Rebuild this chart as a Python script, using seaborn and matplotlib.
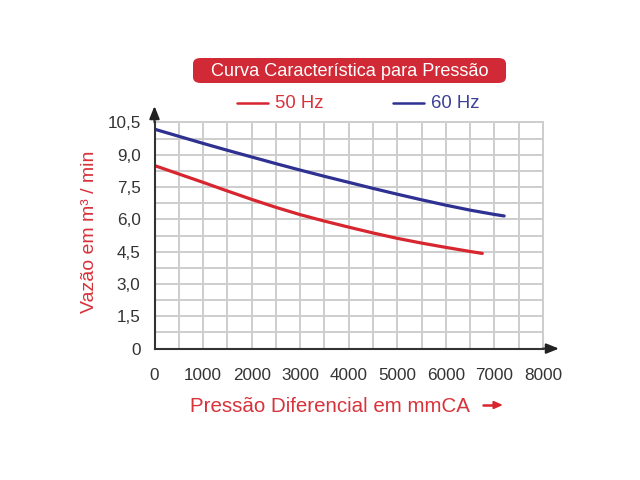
import numpy as np
import pandas as pd
import matplotlib
matplotlib.use("Agg")
import matplotlib.pyplot as plt
import seaborn as sns
from matplotlib.patches import FancyBboxPatch
from matplotlib.lines import Line2D

# ---- data ----
pressure_50 = [0, 500, 1000, 1500, 2000, 2500, 3000, 3500, 4000, 4500, 5000, 5500, 6000, 6500, 6750]
flow_50 = [8.50, 8.11, 7.72, 7.32, 6.93, 6.56, 6.22, 5.92, 5.64, 5.37, 5.12, 4.90, 4.70, 4.51, 4.42]
pressure_60 = [0, 500, 1000, 1500, 2000, 2500, 3000, 3500, 4000, 4500, 5000, 5500, 6000, 6500, 7000, 7200]
flow_60 = [10.19, 9.86, 9.53, 9.21, 8.90, 8.59, 8.29, 8.00, 7.72, 7.44, 7.17, 6.91, 6.66, 6.43, 6.23, 6.16]
series_names = ["50 Hz", "60 Hz"]
x_ticks = [0, 1000, 2000, 3000, 4000, 5000, 6000, 7000, 8000]
y_ticks = [0, 1.5, 3.0, 4.5, 6.0, 7.5, 9.0, 10.5]
y_tick_labels = ["0", "1,5", "3,0", "4,5", "6,0", "7,5", "9,0", "10,5"]
title = "Curva Característica para Pressão"
x_label = "Pressão Diferencial em mmCA"
y_label = "Vazão em m³ / min"

RED = "#d7262f"
BLUE = "#2e3192"
RED_TXT = "#d8323a"
BLUE_TXT = "#3d3f98"
AX = "#333333"
GRID = "#cdcdcd"

sns.set_style("white")
plt.rcParams["font.family"] = ["Liberation Sans", "DejaVu Sans"]

df = pd.concat([
    pd.DataFrame({"p": pressure_50, "q": flow_50, "f": series_names[0]}),
    pd.DataFrame({"p": pressure_60, "q": flow_60, "f": series_names[1]}),
])

W, H = 640, 480
fig = plt.figure(figsize=(6.4, 4.8), dpi=100)
fig.patch.set_facecolor("white")

def fx(px):
    return px / W

def fy(py):
    return 1 - py / H

x0, x1 = 154.5, 543.0
y0, y1 = 348.6, 122.5
ax = fig.add_axes([fx(x0), fy(y0), fx(x1) - fx(x0), fy(y1) - fy(y0)])

sns.lineplot(data=df, x="p", y="q", hue="f", palette={series_names[0]: RED, series_names[1]: BLUE},
             legend=False, linewidth=2.3, ax=ax, sort=False, zorder=5)

ax.set_xlim(0, 8000)
ax.set_ylim(0, 10.5)
ax.set_xticks(x_ticks)
ax.set_xticks(np.arange(500, 8000, 1000), minor=True)
ax.set_yticks(y_ticks)
ax.set_yticklabels(y_tick_labels)
ax.set_yticks(np.arange(0.75, 10.5, 1.5), minor=True)
ax.grid(True, which="both", color=GRID, linewidth=1.4, zorder=0)
ax.set_axisbelow(True)
ax.set_xlabel("")
ax.set_ylabel("")

for s in ["top", "right"]:
    ax.spines[s].set_color(GRID)
    ax.spines[s].set_linewidth(1.4)
for s in ["left", "bottom"]:
    ax.spines[s].set_color(AX)
    ax.spines[s].set_linewidth(1.5)
    ax.spines[s].set_zorder(6)

ax.tick_params(axis="both", which="major", direction="out", length=4, width=1.2, color=AX,
               labelsize=12.3, labelcolor=AX)
ax.tick_params(axis="x", which="major", pad=10)
ax.tick_params(axis="y", which="major", pad=6)
ax.tick_params(axis="both", which="minor", length=0)

# axis arrows
ax.annotate("", xy=(fx(x0), fy(106)), xytext=(fx(x0), fy(y1)), xycoords="figure fraction",
            textcoords="figure fraction",
            arrowprops=dict(arrowstyle="-|>,head_length=0.75,head_width=0.3", color="#222222", lw=1.5,
                            shrinkA=0, shrinkB=0), annotation_clip=False)
ax.annotate("", xy=(fx(559), fy(y0)), xytext=(fx(x1), fy(y0)), xycoords="figure fraction",
            textcoords="figure fraction",
            arrowprops=dict(arrowstyle="-|>,head_length=0.75,head_width=0.3", color="#222222", lw=1.5,
                            shrinkA=0, shrinkB=0), annotation_clip=False)

# title box
bx0, bx1, by0, by1 = 193, 506, 58, 83
box = FancyBboxPatch((fx(bx0), fy(by1)), fx(bx1) - fx(bx0), fy(by0) - fy(by1),
                     boxstyle="round,pad=0,rounding_size=0.012", transform=fig.transFigure,
                     facecolor="#d12a36", edgecolor="none")
fig.add_artist(box)
fig.text(fx((bx0 + bx1) / 2), fy((by0 + by1) / 2 + 0.5), title, color="white", fontsize=13.1,
         ha="center", va="center")

# legend
fig.add_artist(Line2D([fx(237), fx(268)], [fy(103), fy(103)], color=RED, lw=1.8))
fig.text(fx(275), fy(103), series_names[0], color=RED_TXT, fontsize=13.3, ha="left", va="center")
fig.add_artist(Line2D([fx(393), fx(424)], [fy(103), fy(103)], color=BLUE, lw=1.8))
fig.text(fx(431), fy(103), series_names[1], color=BLUE_TXT, fontsize=13.3, ha="left", va="center")

# axis labels
fig.text(fx(330), fy(406), x_label, color=RED_TXT, fontsize=14.8, ha="center", va="center")
fig.add_artist(Line2D([fx(483), fx(495)], [fy(405), fy(405)], color=RED, lw=1.8))
ax.annotate("", xy=(fx(503), fy(405)), xytext=(fx(493), fy(405)), xycoords="figure fraction",
            textcoords="figure fraction",
            arrowprops=dict(arrowstyle="-|>,head_length=0.5,head_width=0.22", color=RED, lw=1.5,
                            shrinkA=0, shrinkB=0), annotation_clip=False)
fig.text(fx(89), fy(231.5), y_label, color=RED_TXT, fontsize=14, ha="center", va="center", rotation=90)

fig.savefig("out.png", dpi=100, facecolor="white")
